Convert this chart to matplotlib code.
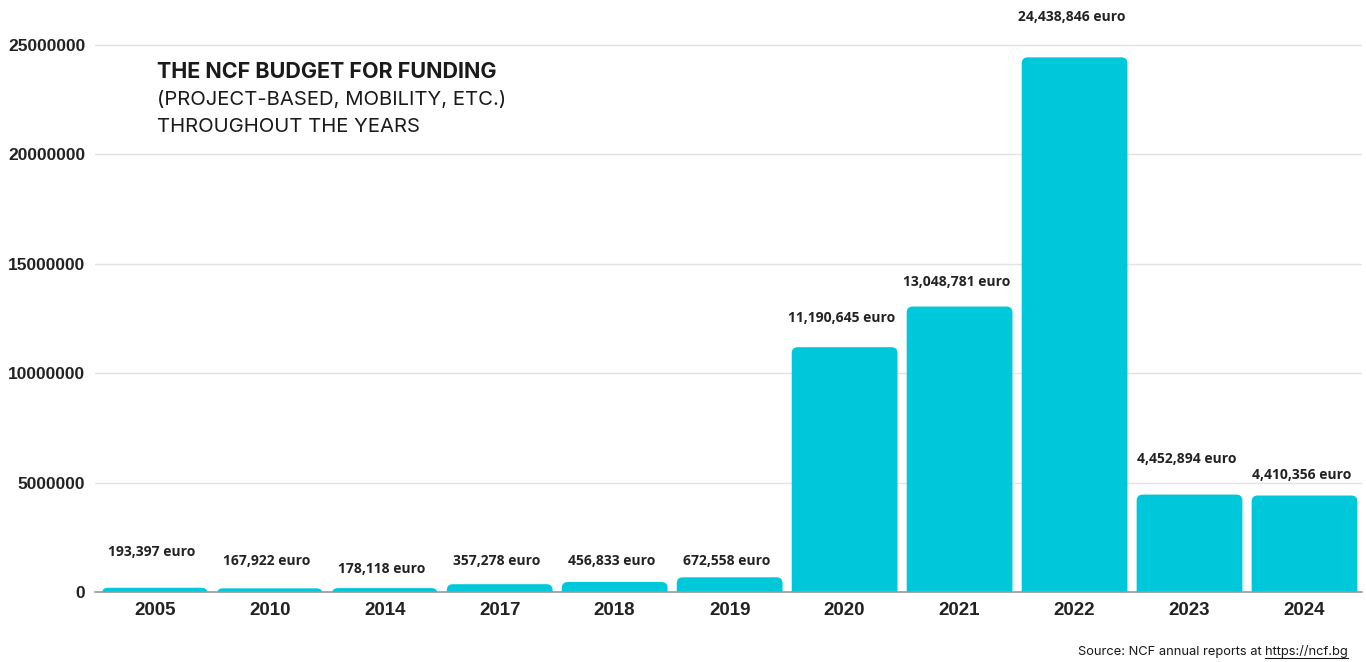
import matplotlib
matplotlib.use("Agg")
import matplotlib.pyplot as plt
from matplotlib.patches import FancyBboxPatch
from matplotlib.lines import Line2D

# data
years = ["2005", "2010", "2014", "2017", "2018", "2019", "2020", "2021", "2022", "2023", "2024"]
budget = [193397, 167922, 178118, 357278, 456833, 672558,
          11190645, 13048781, 24438846, 4452894, 4410356]
yticks = [0, 5000000, 10000000, 15000000, 20000000, 25000000]

# layout: how far (points) each value label sits above its bar
label_offsets = [26, 19.5, 13.7, 16.6, 15, 11.5, 21, 17.6, 29, 25.6, 14.8]

BAR = "#00c8db"
INK = "#222222"

fig = plt.figure(figsize=(13.66, 6.62), dpi=100)
ax = fig.add_axes([95 / 1366, 1 - 592 / 662, (1362 - 95) / 1366, 592 / 662])

x = list(range(len(years)))
bars = ax.bar(x, budget, width=0.92, color=BAR, zorder=2)

ax.set_xlim(-0.52, 10.5)
ax.set_ylim(0, 27060000)

# rounded bar corners: swap each rectangle for a rounded patch
fig.canvas.draw()
px_x = ax.transData.transform((1, 0))[0] - ax.transData.transform((0, 0))[0]
px_y = ax.transData.transform((0, 1e6))[1] - ax.transData.transform((0, 0))[1]
r_px = 6
r_x = r_px / px_x
aspect = (r_px / px_y * 1e6) / r_x
for b in bars:
    bx, bw, bh = b.get_x(), b.get_width(), b.get_height()
    b.set_visible(False)
    patch = FancyBboxPatch((bx, -r_px / px_y * 1e6), bw, bh + r_px / px_y * 1e6,
                           boxstyle=f"round,pad=0,rounding_size={r_x}",
                           mutation_aspect=aspect, facecolor=BAR, edgecolor="none",
                           zorder=2, clip_on=True)
    ax.add_patch(patch)

for xi, v, off in zip(x, budget, label_offsets):
    ax.annotate(f"{v:,} euro", (xi, v), xytext=(-2, off), textcoords="offset points",
                ha="center", va="center", fontsize=10, fontweight="bold",
                family="Open Sans", color=INK, annotation_clip=False)

ax.set_yticks(yticks)
ax.set_yticklabels([str(t) for t in yticks], fontsize=12.5, fontweight="bold",
                   family="Liberation Sans", color=INK)
ax.set_xticks(x)
ax.set_xticklabels(years, fontsize=13.5, fontweight="bold", family="Liberation Sans", color=INK)
ax.tick_params(axis="both", length=0)
ax.tick_params(axis="y", pad=7)
ax.tick_params(axis="x", pad=7)

ax.grid(axis="y", color="#e3e3e3", linewidth=1, zorder=0)
for s in ["top", "right", "left"]:
    ax.spines[s].set_visible(False)
ax.spines["bottom"].set_color("#9a9a9a")
ax.spines["bottom"].set_linewidth(1.2)
ax.spines["bottom"].set_zorder(3)

# title block
fig.text(157 / 1366, 1 - 72 / 662, "THE NCF BUDGET FOR FUNDING", fontsize=15.5,
         fontweight="bold", family="Inter", color="#1a1a1a", va="center")
fig.text(157 / 1366, 1 - 100 / 662, "(PROJECT-BASED, MOBILITY, ETC.)", fontsize=14.6,
         family="Inter", color="#1a1a1a", va="center")
fig.text(157 / 1366, 1 - 127 / 662, "THROUGHOUT THE YEARS", fontsize=14.6,
         family="Inter", color="#1a1a1a", va="center")

# source line with underlined link
fs = 9.3
url = fig.text(1348 / 1366, 1 - 652 / 662, "https://ncf.bg", fontsize=fs,
               family="Inter", color="#1a1a1a", ha="right", va="center")
fig.canvas.draw()
bb = url.get_window_extent()
fw, fh = fig.bbox.width, fig.bbox.height
fig.text(bb.x0 / fw, 1 - 652 / 662, "Source: NCF annual reports at ", fontsize=fs,
         family="Inter", color="#1a1a1a", ha="right", va="center")
fig.add_artist(Line2D([bb.x0 / fw, bb.x1 / fw], [(bb.y0 + 0.5) / fh, (bb.y0 + 0.5) / fh],
                      color="#1a1a1a", linewidth=0.8))

fig.savefig("out.png", dpi=100)
